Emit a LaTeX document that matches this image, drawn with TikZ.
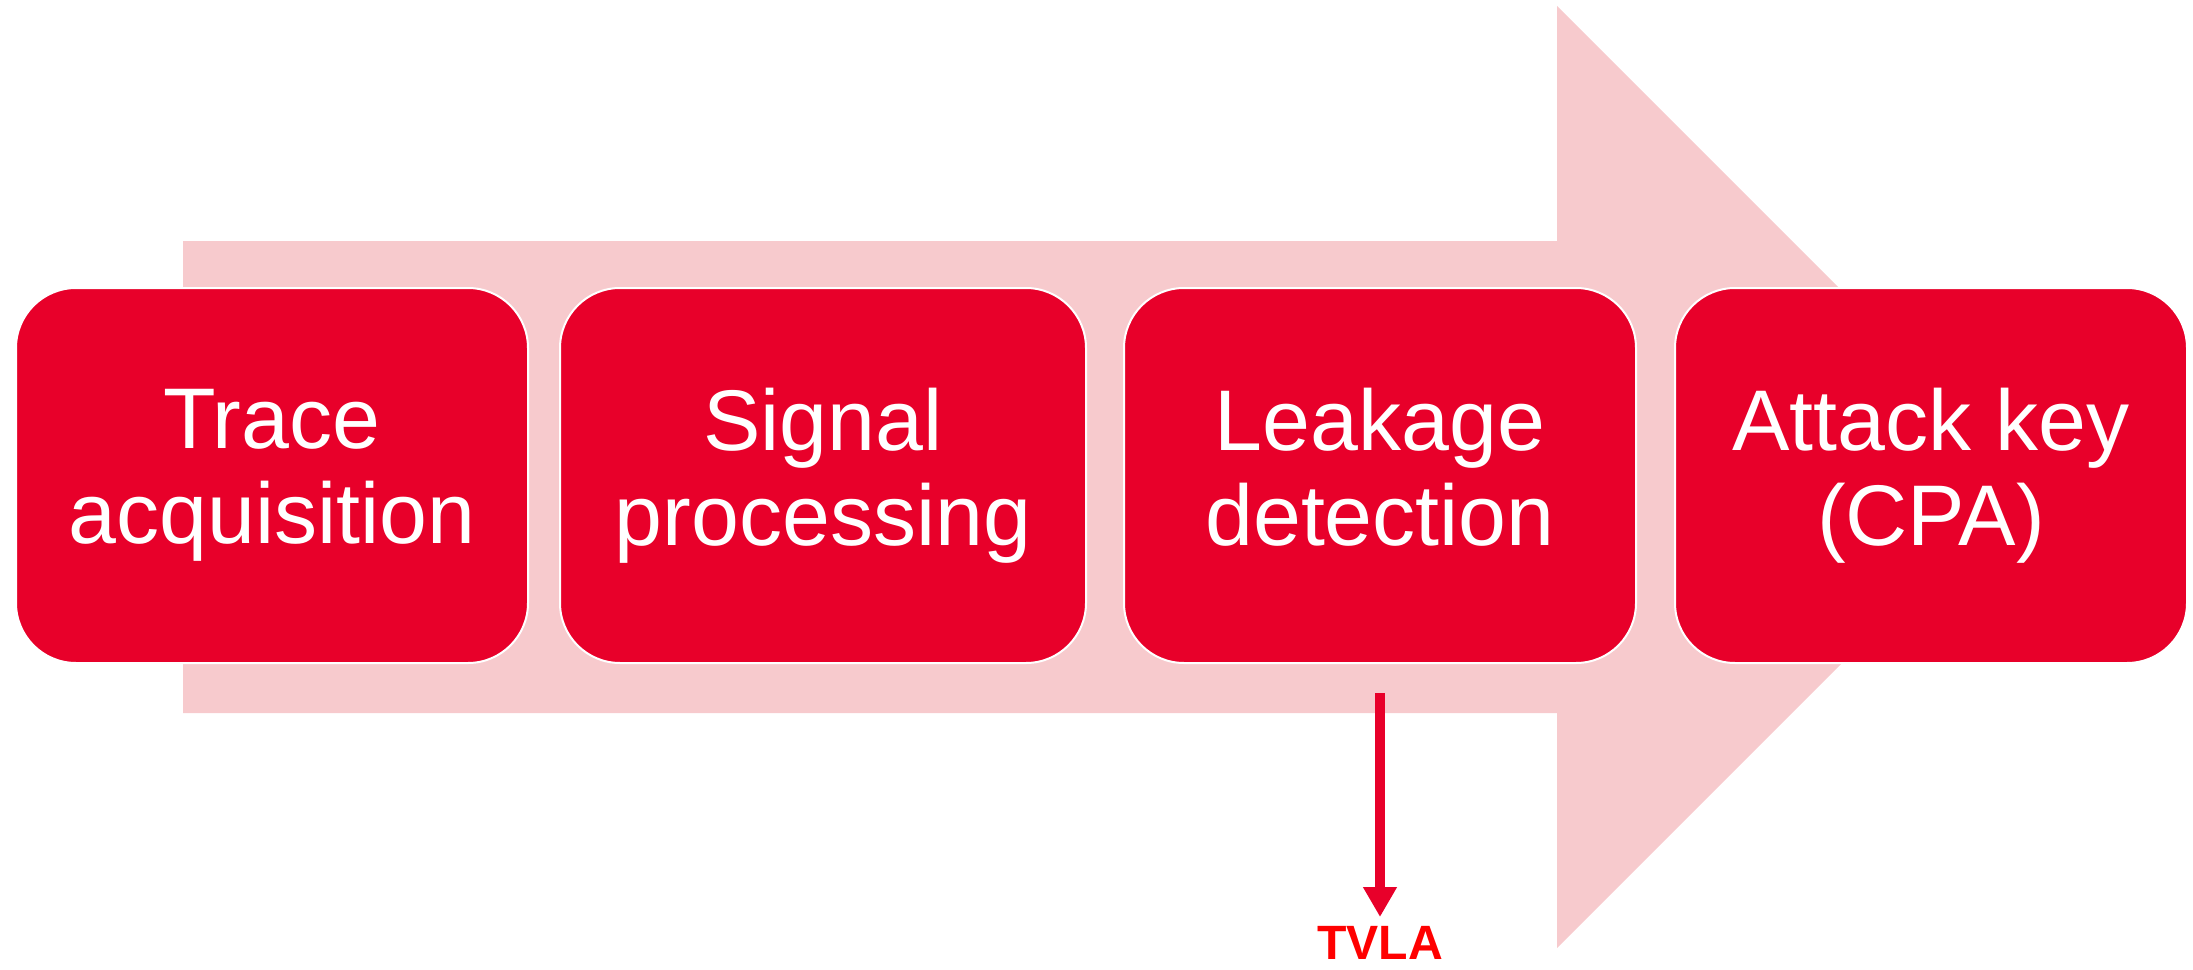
\documentclass[tikz,border=0pt]{standalone}
\usepackage{fontspec}
\setmainfont{Liberation Sans}
\usepackage{xcolor}
\definecolor{stagered}{RGB}{232,0,42}
\definecolor{bandpink}{RGB}{247,202,205}
\definecolor{tvlared}{RGB}{255,0,0}
\usetikzlibrary{positioning, arrows.meta}
\tikzstyle{Stage} = [
rectangle, rounded corners=0.6cm,
fill=stagered, draw=white, line width=0.02cm,
minimum width=5.12cm, minimum height=3.75cm,
text=white, align=center, inner sep=0pt,
font=\fontsize{24.5}{27}\selectfont]
\tikzstyle{Pointer} = [
draw=stagered, line width=0.1cm,
-{Triangle[length=0.3cm, width=0.32cm]}]
\newcommand{\stagestrut}{\rule[-5pt]{0pt}{21pt}}

\begin{document}
\begin{tikzpicture}
        \useasboundingbox (0,0) rectangle (21.93,-9.70);
        \fill[bandpink] (1.83,-2.41) -- (15.57,-2.41) -- (15.57,-0.06) -- (20.28,-4.77)
                -- (15.57,-9.48) -- (15.57,-7.13) -- (1.83,-7.13) -- cycle;

        \node[Stage] (trace) at (2.72,-4.755) {\stagestrut Trace\\acquisition\stagestrut};
        \node[Stage, minimum width=5.26cm, right=0.30cm of trace] (signal) {\stagestrut Signal\\processing\stagestrut};
        \node[Stage, right=0.36cm of signal] (leakage) {\stagestrut Leakage\\detection\stagestrut};
        \node[Stage, right=0.37cm of leakage] (attack) {\stagestrut Attack key\\(CPA)\stagestrut};
        \node[below=2.62cm of leakage, inner sep=0pt, text=tvlared,
                font=\fontsize{13.7}{16}\selectfont\bfseries] (tvla) {TVLA};

        \draw[Pointer, shorten >=0.09cm] ([yshift=-0.29cm]leakage.south) -- (tvla.north);
    \end{tikzpicture}
\end{document}
